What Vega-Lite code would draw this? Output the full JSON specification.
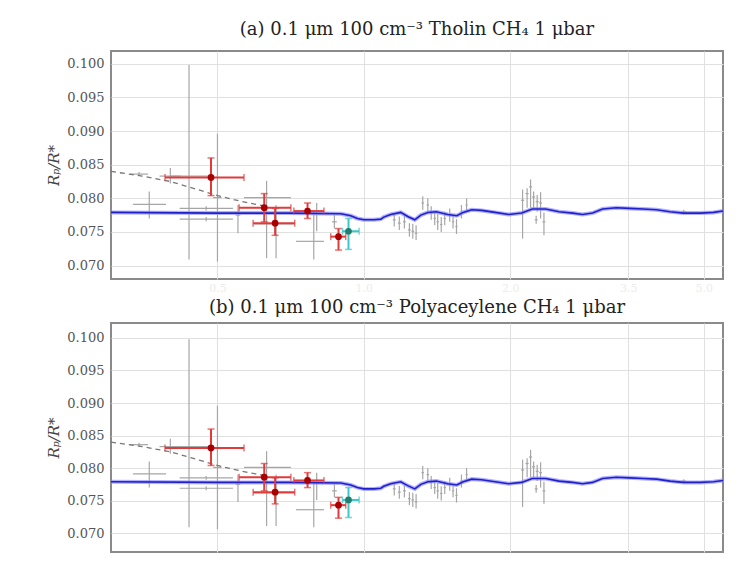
{
  "$schema": "https://vega.github.io/schema/vega-lite/v6.json",
  "background": "white",
  "padding": {"left": 45, "top": 20, "right": 10, "bottom": 0},
  "bounds": "flush",
  "spacing": 44,
  "config": {
    "font": "DejaVu Serif",
    "view": {"stroke": "#8a8a8a", "strokeWidth": 2},
    "axis": {"grid": true, "gridColor": "#e0e0e0", "gridWidth": 1, "domain": false, "ticks": false, "labelOverlap": false, "labelFont": "DejaVu Serif", "labelFontSize": 13, "labelColor": "#555555", "labelPadding": 7, "titleFont": "DejaVu Serif", "titleFontSize": 15, "titleFontWeight": "normal", "titleColor": "#444444"},
    "title": {"font": "DejaVu Serif", "fontSize": 18, "fontWeight": "normal", "color": "#222222"}
  },
  "datasets": {
    "pts": [
      {"g": "gray", "lam": 0.362, "v": 0.0791, "lamLo": 0.335, "lamHi": 0.392, "vLo": 0.0770, "vHi": 0.0810},
      {"g": "gray", "lam": 0.437, "v": 0.0833, "lamLo": 0.40, "lamHi": 0.48, "vLo": 0.0709, "vHi": 0.0998},
      {"g": "gray", "lam": 0.50, "v": 0.0801, "lamLo": 0.49, "lamHi": 0.51, "vLo": 0.0706, "vHi": 0.0896},
      {"g": "gray", "lam": 0.474, "v": 0.0785, "lamLo": 0.418, "lamHi": 0.538, "vLo": 0.0782, "vHi": 0.0788},
      {"g": "gray", "lam": 0.474, "v": 0.0769, "lamLo": 0.418, "lamHi": 0.538, "vLo": 0.0766, "vHi": 0.0772},
      {"g": "gray", "lam": 0.345, "v": 0.0836, "lamLo": 0.33, "lamHi": 0.36, "vLo": 0.0833, "vHi": 0.0839},
      {"g": "gray", "lam": 0.40, "v": 0.0833, "lamLo": 0.38, "lamHi": 0.42, "vLo": 0.0822, "vHi": 0.0845},
      {"g": "gray", "lam": 0.551, "v": 0.0775, "lamLo": 0.545, "lamHi": 0.557, "vLo": 0.0748, "vHi": 0.0790},
      {"g": "gray", "lam": 0.631, "v": 0.0801, "lamLo": 0.567, "lamHi": 0.708, "vLo": 0.0711, "vHi": 0.0826},
      {"g": "gray", "lam": 0.66, "v": 0.0762, "lamLo": 0.595, "lamHi": 0.72, "vLo": 0.0711, "vHi": 0.0790},
      {"g": "gray", "lam": 0.789, "v": 0.0736, "lamLo": 0.725, "lamHi": 0.828, "vLo": 0.0709, "vHi": 0.0780},
      {"g": "gray", "lam": 0.80, "v": 0.0777, "lamLo": 0.79, "lamHi": 0.81, "vLo": 0.0751, "vHi": 0.0793},
      {"g": "gray", "lam": 0.87, "v": 0.0765, "lamLo": 0.86, "lamHi": 0.88, "vLo": 0.0755, "vHi": 0.0775},
      {"g": "gray", "lam": 1.155, "v": 0.0768, "lamLo": 1.147, "lamHi": 1.163, "vLo": 0.0758, "vHi": 0.0778},
      {"g": "gray", "lam": 1.183, "v": 0.0763, "lamLo": 1.175, "lamHi": 1.191, "vLo": 0.0753, "vHi": 0.0773},
      {"g": "gray", "lam": 1.212, "v": 0.0765, "lamLo": 1.204, "lamHi": 1.220, "vLo": 0.0755, "vHi": 0.0775},
      {"g": "gray", "lam": 1.241, "v": 0.0753, "lamLo": 1.233, "lamHi": 1.249, "vLo": 0.0743, "vHi": 0.0763},
      {"g": "gray", "lam": 1.261, "v": 0.0751, "lamLo": 1.253, "lamHi": 1.269, "vLo": 0.0740, "vHi": 0.0762},
      {"g": "gray", "lam": 1.281, "v": 0.0748, "lamLo": 1.273, "lamHi": 1.289, "vLo": 0.0738, "vHi": 0.0760},
      {"g": "gray", "lam": 1.322, "v": 0.0793, "lamLo": 1.314, "lamHi": 1.330, "vLo": 0.0783, "vHi": 0.0803},
      {"g": "gray", "lam": 1.354, "v": 0.0790, "lamLo": 1.346, "lamHi": 1.362, "vLo": 0.0780, "vHi": 0.0800},
      {"g": "gray", "lam": 1.376, "v": 0.0778, "lamLo": 1.368, "lamHi": 1.384, "vLo": 0.0768, "vHi": 0.0788},
      {"g": "gray", "lam": 1.399, "v": 0.0770, "lamLo": 1.391, "lamHi": 1.407, "vLo": 0.0760, "vHi": 0.0780},
      {"g": "gray", "lam": 1.419, "v": 0.0765, "lamLo": 1.411, "lamHi": 1.427, "vLo": 0.0753, "vHi": 0.0777},
      {"g": "gray", "lam": 1.443, "v": 0.0761, "lamLo": 1.435, "lamHi": 1.451, "vLo": 0.0750, "vHi": 0.0772},
      {"g": "gray", "lam": 1.467, "v": 0.0770, "lamLo": 1.459, "lamHi": 1.475, "vLo": 0.0760, "vHi": 0.0780},
      {"g": "gray", "lam": 1.502, "v": 0.0775, "lamLo": 1.494, "lamHi": 1.510, "vLo": 0.0765, "vHi": 0.0785},
      {"g": "gray", "lam": 1.526, "v": 0.0765, "lamLo": 1.518, "lamHi": 1.534, "vLo": 0.0755, "vHi": 0.0775},
      {"g": "gray", "lam": 1.551, "v": 0.0758, "lamLo": 1.543, "lamHi": 1.559, "vLo": 0.0747, "vHi": 0.0769},
      {"g": "gray", "lam": 1.588, "v": 0.0780, "lamLo": 1.580, "lamHi": 1.596, "vLo": 0.0770, "vHi": 0.0790},
      {"g": "gray", "lam": 1.627, "v": 0.0790, "lamLo": 1.619, "lamHi": 1.635, "vLo": 0.0780, "vHi": 0.0800},
      {"g": "gray", "lam": 2.121, "v": 0.0797, "lamLo": 2.105, "lamHi": 2.137, "vLo": 0.0740, "vHi": 0.0813},
      {"g": "gray", "lam": 2.167, "v": 0.0807, "lamLo": 2.151, "lamHi": 2.183, "vLo": 0.0786, "vHi": 0.0815},
      {"g": "gray", "lam": 2.203, "v": 0.0817, "lamLo": 2.187, "lamHi": 2.219, "vLo": 0.0786, "vHi": 0.0828},
      {"g": "gray", "lam": 2.235, "v": 0.0802, "lamLo": 2.219, "lamHi": 2.251, "vLo": 0.0785, "vHi": 0.0810},
      {"g": "gray", "lam": 2.273, "v": 0.0795, "lamLo": 2.257, "lamHi": 2.289, "vLo": 0.0780, "vHi": 0.0805},
      {"g": "gray", "lam": 2.310, "v": 0.0793, "lamLo": 2.294, "lamHi": 2.326, "vLo": 0.0770, "vHi": 0.0809},
      {"g": "gray", "lam": 2.347, "v": 0.0765, "lamLo": 2.331, "lamHi": 2.363, "vLo": 0.0745, "vHi": 0.0779},
      {"g": "gray", "lam": 2.262, "v": 0.0768, "lamLo": 2.246, "lamHi": 2.278, "vLo": 0.0762, "vHi": 0.0774},
      {"g": "gray", "lam": 4.55, "v": 0.0780, "lamLo": 4.50, "lamHi": 4.60, "vLo": 0.0777, "vHi": 0.0783},
      {"g": "red", "lam": 0.485, "v": 0.0831, "lamLo": 0.39, "lamHi": 0.567, "vLo": 0.0804, "vHi": 0.0860},
      {"g": "red", "lam": 0.624, "v": 0.0786, "lamLo": 0.554, "lamHi": 0.708, "vLo": 0.0765, "vHi": 0.0807},
      {"g": "red", "lam": 0.657, "v": 0.0763, "lamLo": 0.592, "lamHi": 0.721, "vLo": 0.0745, "vHi": 0.0785},
      {"g": "red", "lam": 0.766, "v": 0.0781, "lamLo": 0.718, "lamHi": 0.828, "vLo": 0.0770, "vHi": 0.0793},
      {"g": "red", "lam": 0.887, "v": 0.0743, "lamLo": 0.855, "lamHi": 0.918, "vLo": 0.0723, "vHi": 0.0755},
      {"g": "teal", "lam": 0.930, "v": 0.0751, "lamLo": 0.904, "lamHi": 0.978, "vLo": 0.0724, "vHi": 0.0770}
    ],
    "dash": [
      {"lam": 0.302, "v": 0.0840}, {"lam": 0.35, "v": 0.0833}, {"lam": 0.40, "v": 0.0825},
      {"lam": 0.45, "v": 0.0814}, {"lam": 0.50, "v": 0.0804}, {"lam": 0.54, "v": 0.0798},
      {"lam": 0.58, "v": 0.0793}, {"lam": 0.62, "v": 0.0789}
    ],
    "model": [
      {"lam": 0.302, "v": 0.0779}, {"lam": 0.50, "v": 0.0778}, {"lam": 0.70, "v": 0.0778},
      {"lam": 0.897, "v": 0.0777}, {"lam": 0.94, "v": 0.0774}, {"lam": 0.97, "v": 0.0770},
      {"lam": 1.0, "v": 0.0768}, {"lam": 1.05, "v": 0.0768}, {"lam": 1.084, "v": 0.0769},
      {"lam": 1.099, "v": 0.0772}, {"lam": 1.136, "v": 0.0776}, {"lam": 1.191, "v": 0.0779},
      {"lam": 1.231, "v": 0.0773}, {"lam": 1.273, "v": 0.0768}, {"lam": 1.310, "v": 0.0775},
      {"lam": 1.354, "v": 0.0779}, {"lam": 1.409, "v": 0.0780}, {"lam": 1.488, "v": 0.0776},
      {"lam": 1.553, "v": 0.0774}, {"lam": 1.601, "v": 0.0779}, {"lam": 1.667, "v": 0.0783},
      {"lam": 1.747, "v": 0.0782}, {"lam": 1.863, "v": 0.0779}, {"lam": 1.986, "v": 0.0776},
      {"lam": 2.112, "v": 0.0778}, {"lam": 2.220, "v": 0.0784}, {"lam": 2.366, "v": 0.0784},
      {"lam": 2.522, "v": 0.0780}, {"lam": 2.688, "v": 0.0778}, {"lam": 2.818, "v": 0.0776},
      {"lam": 2.954, "v": 0.0778}, {"lam": 3.098, "v": 0.0784}, {"lam": 3.306, "v": 0.0786},
      {"lam": 3.520, "v": 0.0785}, {"lam": 3.754, "v": 0.0784}, {"lam": 4.000, "v": 0.0783},
      {"lam": 4.266, "v": 0.0780}, {"lam": 4.546, "v": 0.0778}, {"lam": 4.925, "v": 0.0778},
      {"lam": 5.238, "v": 0.0779}, {"lam": 5.48, "v": 0.0781}
    ]
  },
  "vconcat": [
    {
      "width": 612, "height": 228,
      "title": {"text": "(a) 0.1 μm 100 cm⁻³ Tholin CH₄ 1 μbar", "offset": 12},
      "layer": [
        {"data": {"name": "pts"}, "transform": [{"filter": "datum.g === 'gray'"}],
         "mark": {"type": "rule", "color": "#a6a6a6", "strokeWidth": 1.2},
         "encoding": {
           "x": {"field": "lam", "type": "quantitative", "scale": {"type": "log", "domain": [0.302, 5.48], "nice": false}, "axis": {"values": [0.5, 1, 2, 3.5, 5], "format": ".1f", "title": null, "labelColor": "#ececec", "labelFontSize": 11, "labelPadding": 3}},
           "y": {"field": "vLo", "type": "quantitative", "scale": {"domain": [0.068, 0.1019], "nice": false, "zero": false}, "axis": {"values": [0.07, 0.075, 0.08, 0.085, 0.09, 0.095, 0.1], "format": ".3f", "title": "Rₚ/R*", "titleFontStyle": "italic", "titlePadding": 5}},
           "y2": {"field": "vHi"}
         }},
        {"data": {"name": "pts"}, "transform": [{"filter": "datum.g === 'gray'"}],
         "mark": {"type": "rule", "color": "#a6a6a6", "strokeWidth": 1.2},
         "encoding": {
           "x": {"field": "lamLo", "type": "quantitative", "scale": {"type": "log", "domain": [0.302, 5.48], "nice": false}, "axis": {"values": [0.5, 1, 2, 3.5, 5], "format": ".1f", "title": null, "labelColor": "#ececec", "labelFontSize": 11, "labelPadding": 3}},
           "x2": {"field": "lamHi"},
           "y": {"field": "v", "type": "quantitative", "axis": {"values": [0.07, 0.075, 0.08, 0.085, 0.09, 0.095, 0.1], "format": ".3f", "title": "Rₚ/R*", "titleFontStyle": "italic", "titlePadding": 5}}
         }},
        {"data": {"name": "dash"},
         "mark": {"type": "line", "color": "#777777", "strokeWidth": 1.3, "strokeDash": [5, 4]},
         "encoding": {"x": {"field": "lam", "type": "quantitative", "axis": {"values": [0.5, 1, 2, 3.5, 5], "format": ".1f", "title": null, "labelColor": "#ececec", "labelFontSize": 11, "labelPadding": 3}}, "y": {"field": "v", "type": "quantitative", "axis": {"values": [0.07, 0.075, 0.08, 0.085, 0.09, 0.095, 0.1], "format": ".3f", "title": "Rₚ/R*", "titleFontStyle": "italic", "titlePadding": 5}}}},
        {"data": {"name": "model"},
         "mark": {"type": "line", "color": "#8f8fff", "strokeWidth": 4, "opacity": 0.7},
         "encoding": {"x": {"field": "lam", "type": "quantitative", "axis": {"values": [0.5, 1, 2, 3.5, 5], "format": ".1f", "title": null, "labelColor": "#ececec", "labelFontSize": 11, "labelPadding": 3}}, "y": {"field": "v", "type": "quantitative", "axis": {"values": [0.07, 0.075, 0.08, 0.085, 0.09, 0.095, 0.1], "format": ".3f", "title": "Rₚ/R*", "titleFontStyle": "italic", "titlePadding": 5}}}},
        {"data": {"name": "model"},
         "mark": {"type": "line", "color": "#2020c8", "strokeWidth": 1.6},
         "encoding": {"x": {"field": "lam", "type": "quantitative", "axis": {"values": [0.5, 1, 2, 3.5, 5], "format": ".1f", "title": null, "labelColor": "#ececec", "labelFontSize": 11, "labelPadding": 3}}, "y": {"field": "v", "type": "quantitative", "axis": {"values": [0.07, 0.075, 0.08, 0.085, 0.09, 0.095, 0.1], "format": ".3f", "title": "Rₚ/R*", "titleFontStyle": "italic", "titlePadding": 5}}}},
        {"data": {"name": "pts"}, "transform": [{"filter": "datum.g !== 'gray'"}],
         "mark": {"type": "rule", "strokeWidth": 2},
         "encoding": {
           "x": {"field": "lam", "type": "quantitative", "axis": {"values": [0.5, 1, 2, 3.5, 5], "format": ".1f", "title": null, "labelColor": "#ececec", "labelFontSize": 11, "labelPadding": 3}},
           "y": {"field": "vLo", "type": "quantitative", "axis": {"values": [0.07, 0.075, 0.08, 0.085, 0.09, 0.095, 0.1], "format": ".3f", "title": "Rₚ/R*", "titleFontStyle": "italic", "titlePadding": 5}}, "y2": {"field": "vHi"},
           "color": {"condition": {"test": "datum.g === 'red'", "value": "#e03a3a"}, "value": "#3cc8c8"}
         }},
        {"data": {"name": "pts"}, "transform": [{"filter": "datum.g !== 'gray'"}],
         "mark": {"type": "rule", "strokeWidth": 2},
         "encoding": {
           "x": {"field": "lamLo", "type": "quantitative", "axis": {"values": [0.5, 1, 2, 3.5, 5], "format": ".1f", "title": null, "labelColor": "#ececec", "labelFontSize": 11, "labelPadding": 3}}, "x2": {"field": "lamHi"},
           "y": {"field": "v", "type": "quantitative", "axis": {"values": [0.07, 0.075, 0.08, 0.085, 0.09, 0.095, 0.1], "format": ".3f", "title": "Rₚ/R*", "titleFontStyle": "italic", "titlePadding": 5}},
           "color": {"condition": {"test": "datum.g === 'red'", "value": "#e03a3a"}, "value": "#3cc8c8"}
         }},
        {"data": {"name": "pts"}, "transform": [{"filter": "datum.g !== 'gray'"}, {"fold": ["vLo", "vHi"], "as": ["k", "capv"]}],
         "mark": {"type": "tick", "orient": "horizontal", "size": 7, "thickness": 1.5},
         "encoding": {
           "x": {"field": "lam", "type": "quantitative", "axis": {"values": [0.5, 1, 2, 3.5, 5], "format": ".1f", "title": null, "labelColor": "#ececec", "labelFontSize": 11, "labelPadding": 3}},
           "y": {"field": "capv", "type": "quantitative", "axis": {"values": [0.07, 0.075, 0.08, 0.085, 0.09, 0.095, 0.1], "format": ".3f", "title": "Rₚ/R*", "titleFontStyle": "italic", "titlePadding": 5}},
           "color": {"condition": {"test": "datum.g === 'red'", "value": "#e03a3a"}, "value": "#3cc8c8"}
         }},
        {"data": {"name": "pts"}, "transform": [{"filter": "datum.g !== 'gray'"}, {"fold": ["lamLo", "lamHi"], "as": ["k", "capl"]}],
         "mark": {"type": "tick", "orient": "vertical", "size": 7, "thickness": 1.5},
         "encoding": {
           "x": {"field": "capl", "type": "quantitative", "axis": {"values": [0.5, 1, 2, 3.5, 5], "format": ".1f", "title": null, "labelColor": "#ececec", "labelFontSize": 11, "labelPadding": 3}},
           "y": {"field": "v", "type": "quantitative", "axis": {"values": [0.07, 0.075, 0.08, 0.085, 0.09, 0.095, 0.1], "format": ".3f", "title": "Rₚ/R*", "titleFontStyle": "italic", "titlePadding": 5}},
           "color": {"condition": {"test": "datum.g === 'red'", "value": "#e03a3a"}, "value": "#3cc8c8"}
         }},
        {"data": {"name": "pts"}, "transform": [{"filter": "datum.g !== 'gray'"}],
         "mark": {"type": "point", "filled": true, "size": 45, "opacity": 1},
         "encoding": {
           "x": {"field": "lam", "type": "quantitative", "axis": {"values": [0.5, 1, 2, 3.5, 5], "format": ".1f", "title": null, "labelColor": "#ececec", "labelFontSize": 11, "labelPadding": 3}},
           "y": {"field": "v", "type": "quantitative", "axis": {"values": [0.07, 0.075, 0.08, 0.085, 0.09, 0.095, 0.1], "format": ".3f", "title": "Rₚ/R*", "titleFontStyle": "italic", "titlePadding": 5}},
           "color": {"condition": {"test": "datum.g === 'red'", "value": "#a80000"}, "value": "#1f7f70"}
         }}
      ]
    },
    {
      "width": 612, "height": 229,
      "title": {"text": "(b) 0.1 μm 100 cm⁻³ Polyaceylene CH₄ 1 μbar", "offset": 6},
      "layer": [
        {"data": {"name": "pts"}, "transform": [{"filter": "datum.g === 'gray'"}],
         "mark": {"type": "rule", "color": "#a6a6a6", "strokeWidth": 1.2},
         "encoding": {
           "x": {"field": "lam", "type": "quantitative", "scale": {"type": "log", "domain": [0.302, 5.48], "nice": false}, "axis": {"values": [0.5, 1, 2, 3.5, 5], "labels": false, "title": null}},
           "y": {"field": "vLo", "type": "quantitative", "scale": {"domain": [0.0671, 0.1023], "nice": false, "zero": false}, "axis": {"values": [0.07, 0.075, 0.08, 0.085, 0.09, 0.095, 0.1], "format": ".3f", "title": "Rₚ/R*", "titleFontStyle": "italic", "titlePadding": 5}},
           "y2": {"field": "vHi"}
         }},
        {"data": {"name": "pts"}, "transform": [{"filter": "datum.g === 'gray'"}],
         "mark": {"type": "rule", "color": "#a6a6a6", "strokeWidth": 1.2},
         "encoding": {
           "x": {"field": "lamLo", "type": "quantitative", "scale": {"type": "log", "domain": [0.302, 5.48], "nice": false}, "axis": {"values": [0.5, 1, 2, 3.5, 5], "labels": false, "title": null}},
           "x2": {"field": "lamHi"},
           "y": {"field": "v", "type": "quantitative", "axis": {"values": [0.07, 0.075, 0.08, 0.085, 0.09, 0.095, 0.1], "format": ".3f", "title": "Rₚ/R*", "titleFontStyle": "italic", "titlePadding": 5}}
         }},
        {"data": {"name": "dash"},
         "mark": {"type": "line", "color": "#777777", "strokeWidth": 1.3, "strokeDash": [5, 4]},
         "encoding": {"x": {"field": "lam", "type": "quantitative", "axis": {"values": [0.5, 1, 2, 3.5, 5], "labels": false, "title": null}}, "y": {"field": "v", "type": "quantitative", "axis": {"values": [0.07, 0.075, 0.08, 0.085, 0.09, 0.095, 0.1], "format": ".3f", "title": "Rₚ/R*", "titleFontStyle": "italic", "titlePadding": 5}}}},
        {"data": {"name": "model"},
         "mark": {"type": "line", "color": "#8f8fff", "strokeWidth": 4, "opacity": 0.7},
         "encoding": {"x": {"field": "lam", "type": "quantitative", "axis": {"values": [0.5, 1, 2, 3.5, 5], "labels": false, "title": null}}, "y": {"field": "v", "type": "quantitative", "axis": {"values": [0.07, 0.075, 0.08, 0.085, 0.09, 0.095, 0.1], "format": ".3f", "title": "Rₚ/R*", "titleFontStyle": "italic", "titlePadding": 5}}}},
        {"data": {"name": "model"},
         "mark": {"type": "line", "color": "#2020c8", "strokeWidth": 1.6},
         "encoding": {"x": {"field": "lam", "type": "quantitative", "axis": {"values": [0.5, 1, 2, 3.5, 5], "labels": false, "title": null}}, "y": {"field": "v", "type": "quantitative", "axis": {"values": [0.07, 0.075, 0.08, 0.085, 0.09, 0.095, 0.1], "format": ".3f", "title": "Rₚ/R*", "titleFontStyle": "italic", "titlePadding": 5}}}},
        {"data": {"name": "pts"}, "transform": [{"filter": "datum.g !== 'gray'"}],
         "mark": {"type": "rule", "strokeWidth": 2},
         "encoding": {
           "x": {"field": "lam", "type": "quantitative", "axis": {"values": [0.5, 1, 2, 3.5, 5], "labels": false, "title": null}},
           "y": {"field": "vLo", "type": "quantitative", "axis": {"values": [0.07, 0.075, 0.08, 0.085, 0.09, 0.095, 0.1], "format": ".3f", "title": "Rₚ/R*", "titleFontStyle": "italic", "titlePadding": 5}}, "y2": {"field": "vHi"},
           "color": {"condition": {"test": "datum.g === 'red'", "value": "#e03a3a"}, "value": "#3cc8c8"}
         }},
        {"data": {"name": "pts"}, "transform": [{"filter": "datum.g !== 'gray'"}],
         "mark": {"type": "rule", "strokeWidth": 2},
         "encoding": {
           "x": {"field": "lamLo", "type": "quantitative", "axis": {"values": [0.5, 1, 2, 3.5, 5], "labels": false, "title": null}}, "x2": {"field": "lamHi"},
           "y": {"field": "v", "type": "quantitative", "axis": {"values": [0.07, 0.075, 0.08, 0.085, 0.09, 0.095, 0.1], "format": ".3f", "title": "Rₚ/R*", "titleFontStyle": "italic", "titlePadding": 5}},
           "color": {"condition": {"test": "datum.g === 'red'", "value": "#e03a3a"}, "value": "#3cc8c8"}
         }},
        {"data": {"name": "pts"}, "transform": [{"filter": "datum.g !== 'gray'"}, {"fold": ["vLo", "vHi"], "as": ["k", "capv"]}],
         "mark": {"type": "tick", "orient": "horizontal", "size": 7, "thickness": 1.5},
         "encoding": {
           "x": {"field": "lam", "type": "quantitative", "axis": {"values": [0.5, 1, 2, 3.5, 5], "labels": false, "title": null}},
           "y": {"field": "capv", "type": "quantitative", "axis": {"values": [0.07, 0.075, 0.08, 0.085, 0.09, 0.095, 0.1], "format": ".3f", "title": "Rₚ/R*", "titleFontStyle": "italic", "titlePadding": 5}},
           "color": {"condition": {"test": "datum.g === 'red'", "value": "#e03a3a"}, "value": "#3cc8c8"}
         }},
        {"data": {"name": "pts"}, "transform": [{"filter": "datum.g !== 'gray'"}, {"fold": ["lamLo", "lamHi"], "as": ["k", "capl"]}],
         "mark": {"type": "tick", "orient": "vertical", "size": 7, "thickness": 1.5},
         "encoding": {
           "x": {"field": "capl", "type": "quantitative", "axis": {"values": [0.5, 1, 2, 3.5, 5], "labels": false, "title": null}},
           "y": {"field": "v", "type": "quantitative", "axis": {"values": [0.07, 0.075, 0.08, 0.085, 0.09, 0.095, 0.1], "format": ".3f", "title": "Rₚ/R*", "titleFontStyle": "italic", "titlePadding": 5}},
           "color": {"condition": {"test": "datum.g === 'red'", "value": "#e03a3a"}, "value": "#3cc8c8"}
         }},
        {"data": {"name": "pts"}, "transform": [{"filter": "datum.g !== 'gray'"}],
         "mark": {"type": "point", "filled": true, "size": 45, "opacity": 1},
         "encoding": {
           "x": {"field": "lam", "type": "quantitative", "axis": {"values": [0.5, 1, 2, 3.5, 5], "labels": false, "title": null}},
           "y": {"field": "v", "type": "quantitative", "axis": {"values": [0.07, 0.075, 0.08, 0.085, 0.09, 0.095, 0.1], "format": ".3f", "title": "Rₚ/R*", "titleFontStyle": "italic", "titlePadding": 5}},
           "color": {"condition": {"test": "datum.g === 'red'", "value": "#a80000"}, "value": "#1f7f70"}
         }}
      ]
    }
  ]
}
